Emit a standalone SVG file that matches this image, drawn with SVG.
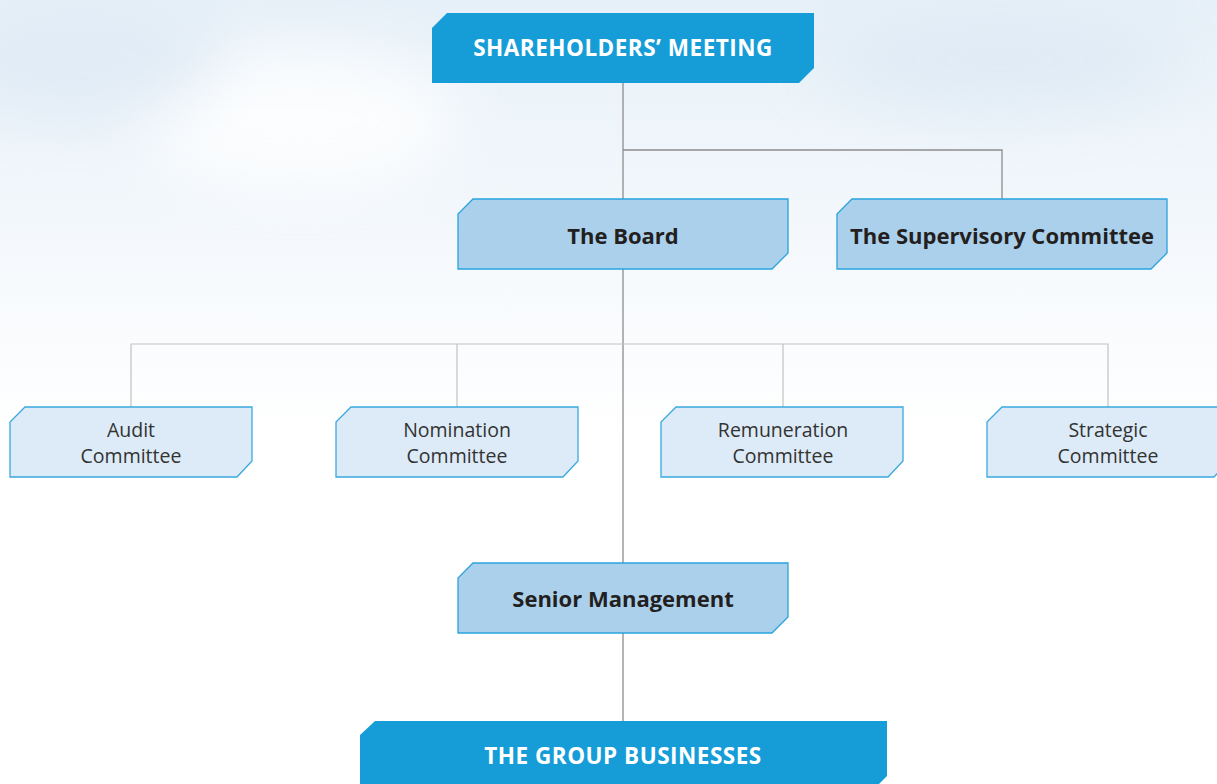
<svg xmlns="http://www.w3.org/2000/svg" width="1217" height="784" viewBox="0 0 1217 784">
  <defs>
    <linearGradient id="sky" x1="0" y1="0" x2="0" y2="1">
      <stop offset="0" stop-color="#e6f0f8"/>
      <stop offset="0.3" stop-color="#f4f8fc"/>
      <stop offset="0.55" stop-color="#ffffff"/>
      <stop offset="1" stop-color="#ffffff"/>
    </linearGradient>
    <filter id="blur" x="-50%" y="-50%" width="200%" height="200%">
      <feGaussianBlur stdDeviation="30"/>
    </filter>
    <style>
      .dark { fill: #169dd8; }
      .mid { fill: #abd0ec; stroke: #2aa2dd; stroke-width: 1.3; }
      .light { fill: #dcebf7; stroke: #3aa8df; stroke-width: 1.3; }
      .t-white { font-family: "Open Sans", "Noto Sans", sans-serif; font-weight: 700; font-size: 22.5px; letter-spacing: 0.5px; fill: #ffffff; text-anchor: middle; }
      .t-bold { font-family: "Open Sans", "Noto Sans", sans-serif; font-weight: 700; font-size: 22px; fill: #231f20; text-anchor: middle; }
      .t-reg { font-family: "Open Sans", "Noto Sans", sans-serif; font-weight: 400; font-size: 19.5px; fill: #333333; text-anchor: middle; }
      .main-line { stroke: #8c8c8c; stroke-width: 1.3; fill: none; }
      .sub-line { stroke: #c2c2c2; stroke-width: 1.2; fill: none; }
    </style>
  </defs>

  <rect x="0" y="0" width="1217" height="784" fill="url(#sky)"/>
  <g filter="url(#blur)" opacity="0.8">
    <ellipse cx="300" cy="120" rx="160" ry="70" fill="#ffffff"/>
    <ellipse cx="1000" cy="60" rx="180" ry="50" fill="#dde9f4"/>
    <ellipse cx="80" cy="60" rx="140" ry="60" fill="#dfeaf5"/>
  </g>

  <g id="connectors">
    <line class="main-line" x1="623" y1="83" x2="623" y2="721"/>
    <polyline class="main-line" points="623,150 1002,150 1002,199"/>
    <polyline class="sub-line" points="131,407 131,344 1108,344 1108,407"/>
    <line class="sub-line" x1="457" y1="344" x2="457" y2="407"/>
    <line class="sub-line" x1="783" y1="344" x2="783" y2="407"/>
  </g>

  <g id="shareholders">
    <polygon class="dark" points="447,13 814,13 814,68 799,83 432,83 432,28"/>
    <text class="t-white" x="623" y="56">SHAREHOLDERS’ MEETING</text>
  </g>

  <g id="board">
    <polygon class="mid" points="473,199 788,199 788,253 772,269 458,269 458,214"/>
    <text class="t-bold" x="623" y="244">The Board</text>
  </g>

  <g id="supervisory">
    <polygon class="mid" points="852,199 1167,199 1167,253 1151,269 837,269 837,214"/>
    <text class="t-bold" x="1002" y="244">The Supervisory Committee</text>
  </g>

  <g id="audit">
    <polygon class="light" points="25,407 252,407 252,461 237,477 10,477 10,422"/>
    <text class="t-reg" x="131" y="437">Audit</text>
    <text class="t-reg" x="131" y="463">Committee</text>
  </g>

  <g id="nomination">
    <polygon class="light" points="351,407 578,407 578,461 563,477 336,477 336,422"/>
    <text class="t-reg" x="457" y="437">Nomination</text>
    <text class="t-reg" x="457" y="463">Committee</text>
  </g>

  <g id="remuneration">
    <polygon class="light" points="676,407 903,407 903,461 888,477 661,477 661,422"/>
    <text class="t-reg" x="783" y="437">Remuneration</text>
    <text class="t-reg" x="783" y="463">Committee</text>
  </g>

  <g id="strategic">
    <polygon class="light" points="1002,407 1229,407 1229,461 1214,477 987,477 987,422"/>
    <text class="t-reg" x="1108" y="437">Strategic</text>
    <text class="t-reg" x="1108" y="463">Committee</text>
  </g>

  <g id="senior">
    <polygon class="mid" points="473,563 788,563 788,617 772,633 458,633 458,578"/>
    <text class="t-bold" x="623" y="607">Senior Management</text>
  </g>

  <g id="group">
    <polygon class="dark" points="375,721 887,721 887,776 872,791 360,791 360,735"/>
    <text class="t-white" x="623" y="764">THE GROUP BUSINESSES</text>
  </g>
</svg>
